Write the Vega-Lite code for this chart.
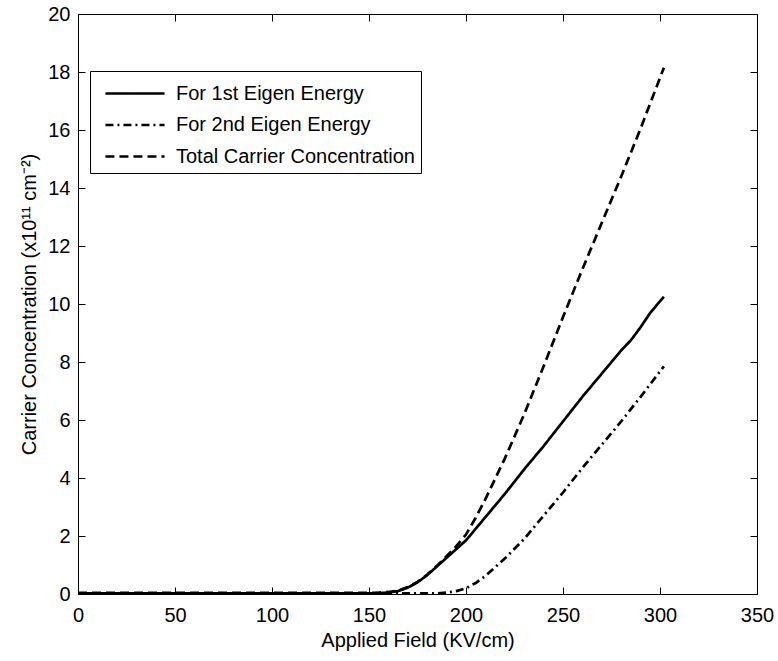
{
  "$schema": "https://vega.github.io/schema/vega-lite/v6.json",
  "width": 679,
  "height": 580,
  "autosize": {"type": "none"},
  "padding": {"left": 78, "top": 14, "right": 21, "bottom": 67},
  "background": "white",
  "config": {
    "font": "Liberation Sans",
    "view": {"stroke": "black", "strokeWidth": 1},
    "axis": {
      "labelFont": "Liberation Sans",
      "titleFont": "Liberation Sans",
      "labelFontSize": 20,
      "titleFontSize": 20,
      "titleFontWeight": "normal",
      "labelColor": "black",
      "titleColor": "black",
      "domainColor": "black",
      "tickColor": "black",
      "grid": false
    }
  },
  "data": {
    "values": [
      {"series": "For 1st Eigen Energy", "x": 0, "y": 0.02},
      {"series": "For 1st Eigen Energy", "x": 50, "y": 0.02},
      {"series": "For 1st Eigen Energy", "x": 100, "y": 0.02},
      {"series": "For 1st Eigen Energy", "x": 150, "y": 0.02},
      {"series": "For 1st Eigen Energy", "x": 155, "y": 0.03},
      {"series": "For 1st Eigen Energy", "x": 160, "y": 0.05},
      {"series": "For 1st Eigen Energy", "x": 165, "y": 0.1},
      {"series": "For 1st Eigen Energy", "x": 170, "y": 0.22},
      {"series": "For 1st Eigen Energy", "x": 175, "y": 0.4},
      {"series": "For 1st Eigen Energy", "x": 180, "y": 0.65},
      {"series": "For 1st Eigen Energy", "x": 185, "y": 0.95},
      {"series": "For 1st Eigen Energy", "x": 190, "y": 1.25},
      {"series": "For 1st Eigen Energy", "x": 195, "y": 1.55},
      {"series": "For 1st Eigen Energy", "x": 200, "y": 1.85},
      {"series": "For 1st Eigen Energy", "x": 210, "y": 2.65},
      {"series": "For 1st Eigen Energy", "x": 220, "y": 3.45},
      {"series": "For 1st Eigen Energy", "x": 230, "y": 4.3},
      {"series": "For 1st Eigen Energy", "x": 240, "y": 5.1},
      {"series": "For 1st Eigen Energy", "x": 250, "y": 5.95},
      {"series": "For 1st Eigen Energy", "x": 260, "y": 6.8},
      {"series": "For 1st Eigen Energy", "x": 270, "y": 7.6},
      {"series": "For 1st Eigen Energy", "x": 275, "y": 8.0},
      {"series": "For 1st Eigen Energy", "x": 280, "y": 8.4},
      {"series": "For 1st Eigen Energy", "x": 285, "y": 8.75},
      {"series": "For 1st Eigen Energy", "x": 290, "y": 9.2},
      {"series": "For 1st Eigen Energy", "x": 295, "y": 9.7},
      {"series": "For 1st Eigen Energy", "x": 302, "y": 10.25},
      {"series": "For 2nd Eigen Energy", "x": 0, "y": 0.02},
      {"series": "For 2nd Eigen Energy", "x": 50, "y": 0.02},
      {"series": "For 2nd Eigen Energy", "x": 100, "y": 0.02},
      {"series": "For 2nd Eigen Energy", "x": 150, "y": 0.02},
      {"series": "For 2nd Eigen Energy", "x": 185, "y": 0.02},
      {"series": "For 2nd Eigen Energy", "x": 190, "y": 0.05},
      {"series": "For 2nd Eigen Energy", "x": 195, "y": 0.1},
      {"series": "For 2nd Eigen Energy", "x": 200, "y": 0.2},
      {"series": "For 2nd Eigen Energy", "x": 205, "y": 0.38},
      {"series": "For 2nd Eigen Energy", "x": 210, "y": 0.62},
      {"series": "For 2nd Eigen Energy", "x": 215, "y": 0.92},
      {"series": "For 2nd Eigen Energy", "x": 220, "y": 1.22},
      {"series": "For 2nd Eigen Energy", "x": 230, "y": 1.9},
      {"series": "For 2nd Eigen Energy", "x": 240, "y": 2.7},
      {"series": "For 2nd Eigen Energy", "x": 250, "y": 3.5},
      {"series": "For 2nd Eigen Energy", "x": 260, "y": 4.35},
      {"series": "For 2nd Eigen Energy", "x": 270, "y": 5.15},
      {"series": "For 2nd Eigen Energy", "x": 280, "y": 5.95},
      {"series": "For 2nd Eigen Energy", "x": 290, "y": 6.8},
      {"series": "For 2nd Eigen Energy", "x": 302, "y": 7.85},
      {"series": "Total Carrier Concentration", "x": 0, "y": 0.04},
      {"series": "Total Carrier Concentration", "x": 50, "y": 0.04},
      {"series": "Total Carrier Concentration", "x": 100, "y": 0.04},
      {"series": "Total Carrier Concentration", "x": 150, "y": 0.04},
      {"series": "Total Carrier Concentration", "x": 155, "y": 0.05},
      {"series": "Total Carrier Concentration", "x": 160, "y": 0.07},
      {"series": "Total Carrier Concentration", "x": 165, "y": 0.12},
      {"series": "Total Carrier Concentration", "x": 170, "y": 0.24},
      {"series": "Total Carrier Concentration", "x": 175, "y": 0.42},
      {"series": "Total Carrier Concentration", "x": 180, "y": 0.67},
      {"series": "Total Carrier Concentration", "x": 185, "y": 0.97},
      {"series": "Total Carrier Concentration", "x": 190, "y": 1.3},
      {"series": "Total Carrier Concentration", "x": 195, "y": 1.65},
      {"series": "Total Carrier Concentration", "x": 200, "y": 2.05},
      {"series": "Total Carrier Concentration", "x": 205, "y": 2.63},
      {"series": "Total Carrier Concentration", "x": 210, "y": 3.27},
      {"series": "Total Carrier Concentration", "x": 215, "y": 3.97},
      {"series": "Total Carrier Concentration", "x": 220, "y": 4.67},
      {"series": "Total Carrier Concentration", "x": 230, "y": 6.2},
      {"series": "Total Carrier Concentration", "x": 240, "y": 7.85},
      {"series": "Total Carrier Concentration", "x": 250, "y": 9.55},
      {"series": "Total Carrier Concentration", "x": 260, "y": 11.2},
      {"series": "Total Carrier Concentration", "x": 270, "y": 12.8},
      {"series": "Total Carrier Concentration", "x": 280, "y": 14.4},
      {"series": "Total Carrier Concentration", "x": 290, "y": 16.05},
      {"series": "Total Carrier Concentration", "x": 302, "y": 18.15}
    ]
  },
  "layer": [
    {
      "mark": {"type": "line", "color": "black", "strokeWidth": 2.7},
      "encoding": {
        "x": {
          "field": "x", "type": "quantitative",
          "scale": {"domain": [0, 350], "nice": false},
          "axis": {"orient": "bottom", "title": "Applied Field (KV/cm)", "values": [0, 50, 100, 150, 200, 250, 300, 350], "tickSize": -7, "labelPadding": 18, "titlePadding": 5, "labelFlush": false}
        },
        "y": {
          "field": "y", "type": "quantitative",
          "scale": {"domain": [0, 20], "nice": false},
          "axis": {"orient": "left", "title": "Carrier Concentration (x10¹¹ cm⁻²)", "values": [0, 2, 4, 6, 8, 10, 12, 14, 16, 18, 20], "tickSize": -7, "labelPadding": 15, "titlePadding": 8, "labelFlush": false}
        },
        "strokeDash": {
          "field": "series", "type": "nominal",
          "scale": {
            "domain": ["For 1st Eigen Energy", "For 2nd Eigen Energy", "Total Carrier Concentration"],
            "range": [[1, 0], [8, 4, 2, 4], [9, 5]]
          },
          "legend": {
            "title": null,
            "orient": "none",
            "legendX": 12,
            "legendY": 57,
            "labelFont": "Liberation Sans",
            "labelFontSize": 20,
            "labelColor": "black",
            "symbolType": "M-0.47,0H3.47",
            "symbolSize": 900,
            "symbolStrokeWidth": 2.7,
            "symbolStrokeColor": "black",
            "symbolFillColor": "transparent",
            "labelOffset": 47,
            "rowPadding": 4.5,
            "padding": 6,
            "strokeColor": "black",
            "fillColor": "white",
            "cornerRadius": 0,
            "labelLimit": 400
          }
        }
      }
    },
    {
      "mark": {"type": "line", "opacity": 0},
      "encoding": {
        "x": {
          "field": "x", "type": "quantitative",
          "axis": {"orient": "top", "title": null, "labels": false, "values": [0, 50, 100, 150, 200, 250, 300, 350], "tickSize": -7, "domain": false}
        },
        "y": {
          "field": "y", "type": "quantitative",
          "axis": {"orient": "right", "title": null, "labels": false, "values": [0, 2, 4, 6, 8, 10, 12, 14, 16, 18, 20], "tickSize": -7, "domain": false}
        },
        "detail": {"field": "series", "type": "nominal"}
      }
    }
  ],
  "resolve": {"axis": {"x": "independent", "y": "independent"}}
}
